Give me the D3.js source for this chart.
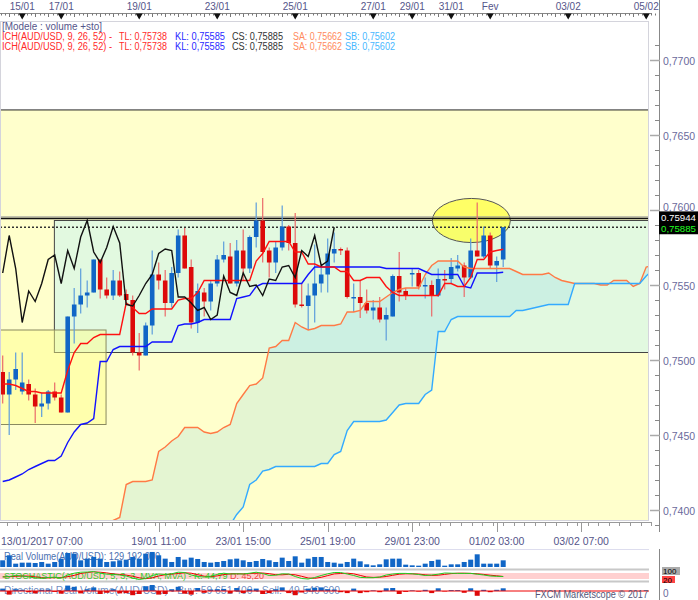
<!DOCTYPE html>
<html><head><meta charset="utf-8">
<script src="https://cdn.jsdelivr.net/npm/d3@7"></script>
<style>
body{margin:0;background:#fff}
svg{display:block}
text{font-family:"Liberation Sans",Arial,sans-serif}
</style>
</head><body>
<svg id="c" width="698" height="600"></svg>
<script>
// ---------------- DATA ----------------
const openP = [.7492,.7477,.7487,.7479,.7484,.7477,.7469,.7471,.7479,.7475,
 .7465,.7529,.7537,.7543,.7545,.7567,.7547,.7543,.7553,.7544,
 .7540,.7505,.7503,.7523,.7557,.7553,.7538,.7558,.7583,.7562,
 .7525,.7545,.7539,.7551,.7567,.7569,.7551,.7573,.7561,.7582,
 .7593,.7573,.7565,.7575,.7589,.7578,.7537,.7536,.7543,.7551,
 .7557,.7571,.7574,.7573,.7541,.7542,.7538,.7533,.7535,.7527,
 .7529,.7556,.7546,.7557,.7558,.7549,.7550,.7543,.7554,.7554,
 .7561,.7563,.7555,.7573,.7569,.7583,.7563,.7567];
const highP = [.7503,.7492,.7505,.7505,.7487,.7481,.7478,.7480,.7485,.7477,
 .7529,.7548,.7561,.7553,.7567,.7567,.7555,.7560,.7559,.7547,
 .7543,.7518,.7525,.7573,.7565,.7560,.7562,.7587,.7588,.7567,
 .7551,.7548,.7553,.7570,.7579,.7578,.7580,.7587,.7583,.7605,
 .7608,.7575,.7579,.7603,.7590,.7598,.7551,.7551,.7577,.7563,
 .7581,.7585,.7575,.7575,.7551,.7553,.7547,.7540,.7542,.7535,
 .7557,.7572,.7548,.7561,.7560,.7555,.7553,.7561,.7560,.7568,
 .7570,.7565,.7581,.7605,.7589,.7585,.7569,.75885];
const lowP = [.7471,.7450,.7480,.7477,.7473,.7458,.7462,.7467,.7473,.7465,
 .7465,.7511,.7531,.7535,.7545,.7541,.7541,.7540,.7542,.7539,
 .7503,.7493,.7503,.7517,.7547,.7529,.7535,.7555,.7561,.7521,
 .7518,.7529,.7533,.7549,.7565,.7551,.7549,.7553,.7558,.7575,
 .7565,.7555,.7558,.7573,.7573,.7535,.7535,.7520,.7525,.7545,
 .7545,.7565,.7570,.7541,.7532,.7528,.7531,.7527,.7525,.7513,
 .7529,.7539,.7540,.7549,.7547,.7541,.7529,.7542,.7547,.7551,
 .7559,.7542,.7554,.7569,.7568,.7561,.7552,.7562];
const closeP = [.7477,.7487,.7494,.7485,.7477,.7469,.7471,.7479,.7475,.7465,
 .7529,.7537,.7543,.7545,.7567,.7547,.7543,.7553,.7543,.7540,
 .7505,.7503,.7523,.7557,.7553,.7538,.7558,.7583,.7561,.7525,
 .7546,.7539,.7551,.7567,.7570,.7551,.7573,.7561,.7582,.7593,
 .7572,.7565,.7575,.7589,.7578,.7537,.7536,.7543,.7551,.7557,
 .7571,.7574,.7573,.7542,.7542,.7538,.7533,.7535,.7527,.7530,
 .7556,.7545,.7543,.7558,.7549,.7550,.7543,.7554,.7553,.7562,
 .7563,.7555,.7573,.7569,.7583,.7563,.7566,.75885];
const tenkan = [.7484,.7484,.7483,.7481,.7479,.7479,.7478,.7478,.7478,.7478,
 .7493,.7505,.7511,.7511,.7515,.7517,.7517,.7517,.7517,.7538,
 .7535,.7531,.7531,.7534,.7534,.7534,.7534,.7540,.7541,.7541,
 .7545,.7553,.7553,.7553,.7553,.7553,.7553,.7553,.7553,.7566,
 .7571,.7579,.7579,.7579,.7579,.7572,.7572,.7564,.7564,.7562,
 .7562,.7562,.7559,.7559,.7553,.7553,.7555,.7555,.7555,.7549,
 .7545,.7543,.7543,.7543,.7543,.7543,.7543,.7543,.7551,.7551,
 .7549,.7549,.7555,.7567,.7567,.7572,.7573,.75738];
const kijun = [.7419,.7420,.7422,.7424,.7427,.7429,.7431,.7433,.7433,.7436,
 .7445,.7452,.7457,.7458,.7461,.7499,.7499,.7507,.7509,.7509,
 .7509,.7509,.7509,.7512,.7512,.7512,.7512,.7523,.7524,.7524,
 .7525,.7527,.7527,.7527,.7527,.7527,.7541,.7542,.7543,.7549,
 .7551,.7551,.7551,.7551,.7551,.7551,.7551,.7557,.7562,.7562,
 .7562,.7562,.7562,.7562,.7562,.7562,.7562,.7562,.7562,.7561,
 .7561,.7561,.7561,.7561,.7561,.7559,.7557,.7557,.7557,.7557,
 .7557,.7549,.7548,.7558,.7558,.7558,.7558,.75585];
const chikouShift = 26;
const senkouAStart = 15;
const senkouA = [.7388,.7391,.7393,.7395,.7417,.7419,.7419,.7419,.7420,.7439,
 .7442,.7446,.7449,.7455,.7455,.7455,.7452,.7451,.7452,.7455,
 .7457,.7471,.7477,.7483,.7484,.7488,.7508,.7509,.7513,.7513,
 .7525,.7522,.7520,.7521,.7523,.7523,.7523,.7524,.7532,.7532,
 .7533,.7539,.7539,.7539,.7542,.7545,.7547,.7548,.7548,.7548,
 .7557,.7563,.7566,.7566,.7566,.7566,.7562,.7561,.7561,.7561,
 .7561,.7561,.7561,.7561,.7559,.7557,.7557,.7557,.7557,.7558,
 .7555,.7553,.7552,.7551,.7551,.7551,.7551,.7550,.7550,.7553,
 .7553,.7553,.7549,.7551,.7562,.7563];
const senkouBStart = 35;
const senkouB = [.7390,.7397,.7402,.7417,.7420,.7426,.7427,.7429,.7429,.7429,
 .7429,.7429,.7429,.7429,.7431,.7431,.7437,.7439,.7453,.7459,
 .7459,.7459,.7459,.7459,.7460,.7465,.7470,.7471,.7471,.7471,
 .7477,.7480,.7519,.7519,.7527,.7529,.7529,.7529,.7529,.7529,
 .7529,.7529,.7529,.7529,.7533,.7533,.7534,.7535,.7536,.7537,
 .7537,.7537,.7537,.7551,.7551,.7551,.7551,.7551,.7551,.7551,
 .7551,.7551,.7551,.7551,.7556,.7560];
const volume = [100,175,50,65,65,60,75,50,75,125,
 210,200,100,125,150,125,75,85,100,110,
 150,125,200,225,175,125,75,150,110,140,
 120,75,65,75,90,115,125,100,75,90,
 120,100,75,140,90,160,65,125,150,150,
 75,65,50,75,125,85,40,25,40,115,
 125,125,35,25,20,50,90,110,20,40,
 40,75,110,190,50,50,50,100];
const stochK = [40,45,55,50,42,30,28,35,38,30,
 60,78,88,90,94,80,68,66,60,50,
 30,15,25,55,70,65,72,88,85,60,
 45,40,48,65,78,70,72,70,78,88,
 75,55,58,72,70,45,25,20,35,55,
 72,85,85,70,55,36,33,33,40,60,
 70,76,76,72,65,55,60,68,80,78,
 76,76,76,68,60,50,47,44.79];
const stochD = [42,43,47,50,49,41,33,31,34,34,
 43,56,75,85,91,88,81,71,65,59,
 47,32,23,32,50,63,69,75,82,78,
 63,48,44,51,64,71,73,71,73,79,
 80,73,63,62,67,62,47,30,27,37,
 54,71,75,78,72,56,40,36,38,45,
 57,68,72,72,69,62,56,58,66,74,
 78,78,76,72,66,58,52,45.2];
const dirVol = [40,-60,30,20,-20,-40,20,25,-15,-45,
 90,70,-40,30,60,-50,-30,30,-40,-35,
 -70,-50,80,100,-60,-50,30,70,-45,-60,
 50,-30,25,30,35,-40,50,-35,30,40,
 -50,-35,30,60,-35,-70,-25,40,55,60,
 30,25,-20,-35,40,-35,-20,10,-20,45,
 50,-50,-15,10,-10,20,-35,45,-8,15,
 15,-30,45,-80,20,-20,20,45];
// levels / zones
const resistLevel = 0.75944, lastClose = 0.75885;
const zoneTop = 0.76667;
const rangeBox = {from: 7.95, to: 99.5, top: 0.7593, bottom: 0.7505};
const consolBox = {from: -0.5, to: 15.9, top: 0.7520, bottom: 0.7457};
const ellipseMark = {center: 72.1, price: 0.75930, halfSpan: 6.0, halfPrice: 0.00147};
const priceTicks = [0.7400,0.7450,0.7500,0.7550,0.7600,0.7650,0.7700];
const topTicks = [[3,"15/01"],[9,"17/01"],[21,"19/01"],[33,"23/01"],[45,"25/01"],[57,"27/01"],[63,"29/01"],[69,"31/01"],[75,"Fev"],[87,"03/02"],[99,"05/02"]];
const bottomTicks = [[24,"19/01 11:00"],[37,"23/01 15:00"],[50,"25/01 19:00"],[63,"29/01 23:00"],[76,"01/02 03:00"],[89,"03/02 07:00"]];
const firstLabel = "13/01/2017 07:00";
const legendParts = [
 ["ICH(AUD/USD, 9, 26, 52) -", "#ff2a2a"],
 ["TL: 0,75738", "#ff2a2a"],
 ["KL: 0,75585", "#2a2aff"],
 ["CS: 0,75885", "#333333"],
 ["SA: 0,75662", "#ff8a5c"],
 ["SB: 0,75602", "#48b8ff"]];

// ---------------- LAYOUT ----------------
const svg = d3.select("#c");
const PL=0, PR=649, PT=21, PB=521;
const x = d3.scaleLinear().domain([0,99]).range([2.7,646.2]);
const y = d3.scaleLinear().domain([0.74,0.77]).range([510,60]);
const n = closeP.length;
const idx = d3.range(n);
const fitText = (sel, w) => sel.attr("textLength", w).attr("lengthAdjust","spacingAndGlyphs");

const defs = svg.append("defs");
defs.append("clipPath").attr("id","clip").append("rect")
  .attr("x",PL).attr("y",PT).attr("width",PR-PL).attr("height",PB-PT);

// plot background
svg.append("rect").attr("x",PL).attr("y",PT).attr("width",PR-PL).attr("height",PB-PT).attr("fill","#ffffff");
const g = svg.append("g").attr("clip-path","url(#clip)");
g.append("rect").attr("x",PL).attr("y",y(zoneTop)).attr("width",PR-PL).attr("height",PB-y(zoneTop)).attr("fill","#ffffcc");
g.append("line").attr("x1",PL).attr("x2",PR).attr("y1",y(zoneTop)).attr("y2",y(zoneTop)).attr("stroke","#222").attr("stroke-width",1);

// range box (green)
g.append("rect").attr("x",x(rangeBox.from)).attr("y",y(rangeBox.top))
  .attr("width",x(rangeBox.to)-x(rangeBox.from)).attr("height",y(rangeBox.bottom)-y(rangeBox.top))
  .attr("fill","#e2f9e0").attr("stroke","#444").attr("stroke-width",1);
// consolidation box (yellow)
g.append("rect").attr("x",x(consolBox.from)).attr("y",y(consolBox.top))
  .attr("width",x(consolBox.to)-x(consolBox.from)).attr("height",y(consolBox.bottom)-y(consolBox.top))
  .attr("fill","#ffff88").attr("fill-opacity",0.45).attr("stroke","#8a8a60").attr("stroke-width",1);

// cloud
const cloud = d3.range(senkouAStart, senkouAStart+senkouA.length).map(i=>({
  i, a: senkouA[i-senkouAStart],
  b: (i>=senkouBStart && i<senkouBStart+senkouB.length) ? senkouB[i-senkouBStart] : null}));
g.append("path").datum(cloud)
  .attr("d", d3.area().x(d=>x(d.i)).y0(d=>d.b==null? PB+20 : y(d.b)).y1(d=>y(d.a)))
  .attr("fill","rgb(120,205,235)").attr("fill-opacity",0.2);

// ellipse
g.append("ellipse").attr("cx",x(ellipseMark.center)).attr("cy",y(ellipseMark.price))
  .attr("rx",x(ellipseMark.center+ellipseMark.halfSpan)-x(ellipseMark.center))
  .attr("ry",y(ellipseMark.price-ellipseMark.halfPrice)-y(ellipseMark.price))
  .attr("fill","#ffff44").attr("fill-opacity",0.75).attr("stroke","#555").attr("stroke-width",1);

// level lines
g.append("line").attr("x1",PL).attr("x2",PR).attr("y1",y(resistLevel)-1.5).attr("y2",y(resistLevel)-1.5).attr("stroke","#999").attr("stroke-width",1);
g.append("line").attr("x1",PL).attr("x2",PR).attr("y1",y(resistLevel)).attr("y2",y(resistLevel)).attr("stroke","#111").attr("stroke-width",1.5);
g.append("line").attr("x1",PL).attr("x2",PR).attr("y1",y(lastClose)).attr("y2",y(lastClose)).attr("stroke","#333").attr("stroke-width",1.3).attr("stroke-dasharray","2,2");

// candles
const cg = g.append("g");
const up = i => closeP[i] >= openP[i];
cg.selectAll("line.wick").data(idx).join("line").attr("class","wick")
  .attr("x1",i=>x(i)).attr("x2",i=>x(i)).attr("y1",i=>y(highP[i])).attr("y2",i=>y(lowP[i]))
  .attr("stroke",i=>up(i)?"#5d9ddc":"#ea6a6a").attr("stroke-width",1.2);
cg.selectAll("rect.body").data(idx).join("rect").attr("class","body")
  .attr("x",i=>x(i)-2.3).attr("width",4.6)
  .attr("y",i=>y(Math.max(openP[i],closeP[i])))
  .attr("height",i=>Math.max(1.5, Math.abs(y(openP[i])-y(closeP[i]))))
  .attr("fill",i=>up(i)?"#1166c6":"#dd0a0a");

// ichimoku lines
const line = d3.line().x(d=>x(d[0])).y(d=>y(d[1]));
const addLine = (pts, color, w) => g.append("path").datum(pts).attr("d",line).attr("fill","none").attr("stroke",color).attr("stroke-width",w);
addLine(senkouA.map((v,k)=>[k+senkouAStart,v]), "#ff7a45", 1.4);
addLine(senkouB.map((v,k)=>[k+senkouBStart,v]), "#33aaff", 1.4);
addLine(kijun.map((v,i)=>[i,v]), "#1111ff", 1.4);
addLine(tenkan.map((v,i)=>[i,v]), "#ff1111", 1.4);
addLine(closeP.slice(chikouShift).map((v,j)=>[j,v]), "#111111", 1.4);

// plot frame
svg.append("rect").attr("x",PL+0.5).attr("y",PT+0.5).attr("width",PR-PL-1).attr("height",PB-PT-1)
  .attr("fill","none").attr("stroke","#d4d4dc");

// ---------- right price axis ----------
const ax = svg.append("g");
ax.append("line").attr("x1",659.5).attr("x2",659.5).attr("y1",0).attr("y2",532).attr("stroke","#888");
const minor = d3.range(0.7390,0.7712,0.001);
ax.selectAll("line.mn").data(minor).join("line").attr("class","mn")
  .attr("x1",655).attr("x2",659.5).attr("y1",d=>Math.round(y(d))+0.5).attr("y2",d=>Math.round(y(d))+0.5).attr("stroke","#888");
ax.selectAll("line.mj").data(priceTicks).join("line").attr("class","mj")
  .attr("x1",650).attr("x2",660).attr("y1",d=>Math.round(y(d))+0.5).attr("y2",d=>Math.round(y(d))+0.5).attr("stroke","#aaa").attr("stroke-width",1.5);
ax.selectAll("text").data(priceTicks).join("text")
  .attr("x",663).attr("y",d=>Math.abs(d-0.76)<1e-6 ? y(d)+1 : y(d)+5).attr("font-size",10.5).attr("fill","#6a6a9c")
  .text(d=>d3.format(".4f")(d).replace(".",","));
// price labels box
ax.append("rect").attr("x",659).attr("y",y(resistLevel)-7).attr("width",39).attr("height",y(lastClose)-y(resistLevel)+14).attr("fill","#000");
fitText(ax.append("text").attr("x",661).attr("y",y(resistLevel)+3).attr("font-size",9.5).attr("fill","#fff").text(String(resistLevel)), 35);
fitText(ax.append("text").attr("x",661).attr("y",y(lastClose)+5).attr("font-size",9.5).attr("fill","#22ff22").text(String(lastClose).replace(".",",")), 35);

// ---------- top time axis ----------
const tax = svg.append("g");
tax.append("line").attr("x1",0).attr("x2",652).attr("y1",13.5).attr("y2",13.5).attr("stroke","#888");
const topMinor = d3.range(-1, 101, 2/3);
tax.selectAll("line.t").data(topMinor).join("line").attr("class","t")
  .attr("x1",d=>Math.round(x(d))+0.5).attr("x2",d=>Math.round(x(d))+0.5)
  .attr("y1",13.5).attr("y2",(d,k)=>k%3===0?17:15.5).attr("stroke","#777");
tax.selectAll("path").data(topTicks).join("path")
  .attr("d",d=>`M${x(d[0])-3.5},13.5L${x(d[0])+3.5},13.5L${x(d[0])},19.5Z`).attr("fill","#111");
tax.selectAll("text").data(topTicks).join("text")
  .attr("x",d=>x(d[0])).attr("y",9.5).attr("text-anchor","middle").attr("font-size",10).attr("fill","#55558a").text(d=>d[1]);

// legend
fitText(svg.append("text").attr("x",2).attr("y",29.5).attr("font-size",10).attr("fill","#55558a").text("[Modele : volume +sto]"), 100);
const legX = [2,119,175,232,293,345];
const legW = [110,48,50,51,49,50];
[39.5,49.5].forEach(yy=>{
  legendParts.forEach((p,k)=>fitText(svg.append("text").attr("x",legX[k]).attr("y",yy).attr("font-size",10).attr("fill",p[1]).text(p[0]), legW[k]));
});

// ---------- bottom time axis ----------
const bax = svg.append("g");
bax.append("line").attr("x1",0).attr("x2",652).attr("y1",522.5).attr("y2",522.5).attr("stroke","#999");
const botMinor = d3.range(-1, 100, 13/8);
bax.selectAll("line.b").data(botMinor).join("line").attr("class","b")
  .attr("x1",d=>Math.round(x(d))+0.5).attr("x2",d=>Math.round(x(d))+0.5).attr("y1",522.5).attr("y2",526).attr("stroke","#999");
bax.selectAll("line.bm").data(bottomTicks).join("line").attr("class","bm")
  .attr("x1",d=>Math.round(x(d[0]))+0.5).attr("x2",d=>Math.round(x(d[0]))+0.5).attr("y1",522.5).attr("y2",532).attr("stroke","#999");
bax.selectAll("text").data(bottomTicks).join("text")
  .attr("x",d=>x(d[0])).attr("y",545).attr("text-anchor","middle").attr("font-size",10.5).attr("fill","#55558a").text(d=>d[1]);
bax.append("text").attr("x",1).attr("y",545).attr("font-size",10.5).attr("fill","#55558a").text(firstLabel);

// ---------- volume panel ----------
const vy = d3.scaleLinear().domain([0,250]).range([567,550.3]);
svg.append("line").attr("x1",0).attr("x2",PR).attr("y1",549.5).attr("y2",549.5).attr("stroke","#dde");
fitText(svg.append("text").attr("x",4).attr("y",560).attr("font-size",10).attr("fill","#4a6fb0").text("Real Volume(AUD/USD): 129 192 000"), 156);
svg.selectAll("rect.vol").data(idx).join("rect").attr("class","vol")
  .attr("x",i=>x(i)-2.5).attr("width",5).attr("y",i=>vy(volume[i])).attr("height",i=>vy(0)-vy(volume[i])).attr("fill","#1166c6");

// ---------- stochastic panel ----------
const sy = d3.scaleLinear().domain([0,100]).range([581,571]);
svg.append("rect").attr("x",0).attr("y",568.5).attr("width",PR).attr("height",2).attr("fill","#c8c8c8");
svg.append("rect").attr("x",0).attr("y",sy(80)).attr("width",PR).attr("height",sy(20)-sy(80)).attr("fill","#ffd0d0");
svg.append("rect").attr("x",0).attr("y",580.5).attr("width",PR).attr("height",2).attr("fill","#c8c8c8");
const sline = d3.line().x((d,i)=>x(i)).y(d=>sy(d));
const stLabel = svg.append("text").attr("x",4).attr("y",578.5).attr("font-size",9);
stLabel.append("tspan").attr("fill","#33cc33").text("STOCHASTIC(AUD/USD, 5, 3, 3, MVA, MVA) - K: 44,79 ");
stLabel.append("tspan").attr("fill","#ee4444").text("D: 45,20");
svg.append("path").datum(stochD).attr("d",sline).attr("fill","none").attr("stroke","#e00").attr("stroke-width",1);
svg.append("path").datum(stochK).attr("d",sline).attr("fill","none").attr("stroke","#2c2").attr("stroke-width",1);
svg.append("rect").attr("x",662).attr("y",567).attr("width",18).attr("height",8).attr("fill","#aaa");
svg.append("text").attr("x",663).attr("y",573.5).attr("font-size",8).attr("fill","#000").text("100");
svg.append("rect").attr("x",662).attr("y",576).attr("width",13).attr("height",7).attr("fill","#f44");
svg.append("text").attr("x",663).attr("y",583).attr("font-size",8).attr("fill","#000").text("20");

// ---------- directional volume panel ----------
const dy = d3.scaleLinear().domain([-100,100]).range([597,585]);
fitText(svg.append("text").attr("x",4).attr("y",594).attr("font-size",10).attr("fill","#4a6fb0").attr("fill-opacity",0.8)
  .text("Directional Real Volume(AUD/USD) - Buy: 59 651 400 - Sell: -49 540 600"), 336);
svg.selectAll("rect.dv").data(idx).join("rect").attr("class","dv")
  .attr("x",i=>x(i)-2.5).attr("width",5)
  .attr("y",i=>Math.min(dy(0),dy(dirVol[i]))).attr("height",i=>Math.abs(dy(dirVol[i])-dy(0)))
  .attr("fill",i=>dirVol[i]>=0?"#1166c6":"#dd0a0a");
svg.append("line").attr("x1",0).attr("x2",PR).attr("y1",dy(0)).attr("y2",dy(0)).attr("stroke","#e00").attr("stroke-width",1);
fitText(svg.append("text").attr("x",535).attr("y",598).attr("font-size",10).attr("fill","#555577").text("FXCM Marketscope \u00a9 2017"), 113);
svg.append("text").attr("x",663).attr("y",597).attr("font-size",10).attr("fill","#6a6a9c").text("0");
// lower axis line
svg.append("line").attr("x1",659.5).attr("x2",659.5).attr("y1",549).attr("y2",600).attr("stroke","#888");
</script>
</body></html>
